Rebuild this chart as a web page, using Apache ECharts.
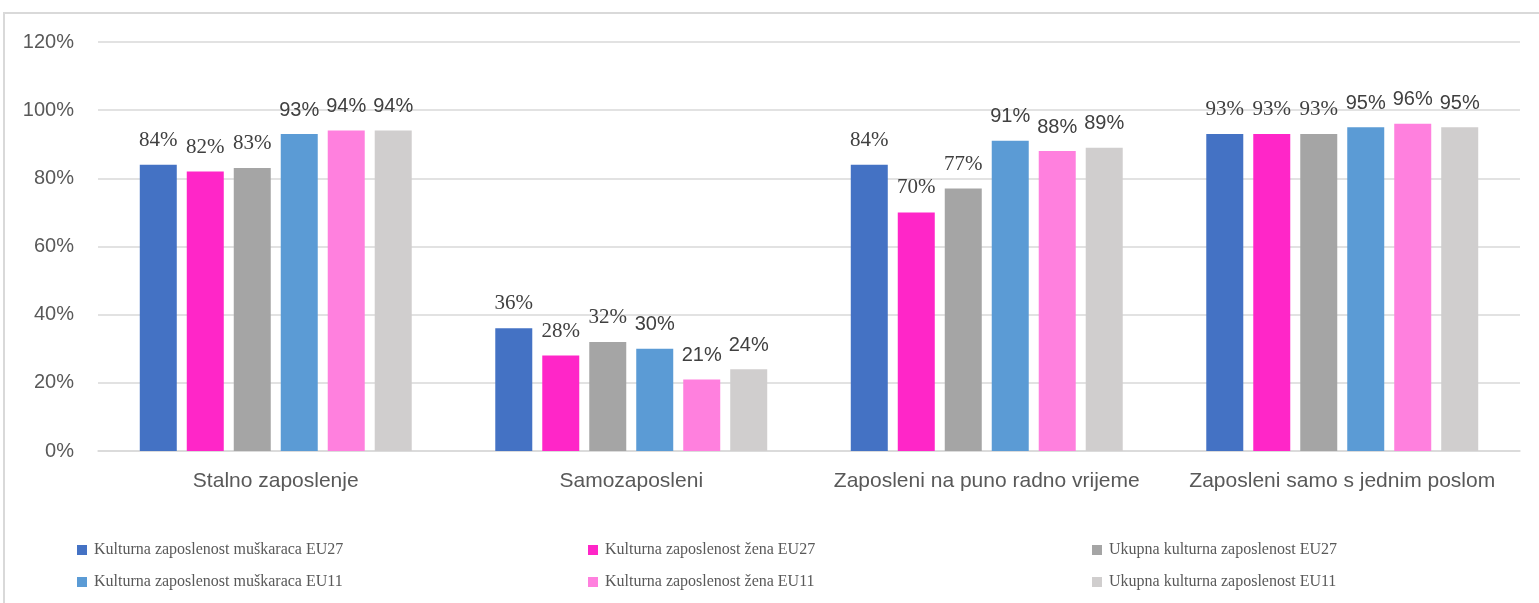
<!DOCTYPE html>
<html>
<head>
<meta charset="utf-8">
<script src="https://cdn.jsdelivr.net/npm/echarts@6/dist/echarts.min.js"></script>
<style>
  html, body { margin: 0; padding: 0; background: #fff; }
  #chart { width: 1539px; height: 603px; }
</style>
</head>
<body>
<div id="chart"></div>
<script>
// kategorije i vrijednosti (%)
const categories = ['Stalno zaposlenje', 'Samozaposleni', 'Zaposleni na puno radno vrijeme', 'Zaposleni samo s jednim poslom']
const seriesNames = [
  'Kulturna zaposlenost muškaraca EU27',
  'Kulturna zaposlenost žena EU27',
  'Ukupna kulturna zaposlenost EU27',
  'Kulturna zaposlenost muškaraca EU11',
  'Kulturna zaposlenost žena EU11',
  'Ukupna kulturna zaposlenost EU11'
]
const menEU27 = [84, 36, 84, 93]
const womenEU27 = [82, 28, 70, 93]
const totalEU27 = [83, 32, 77, 93]
const menEU11 = [93, 30, 91, 95]
const womenEU11 = [94, 21, 88, 96]
const totalEU11 = [94, 24, 89, 95]
const yMax = 120
const yStep = 20

const seriesData = [menEU27, womenEU27, totalEU27, menEU11, womenEU11, totalEU11]
const colors = ['#4472C4', '#FF26C8', '#A5A5A5', '#5B9BD5', '#FF80DE', '#D0CECE']
const serif = '"Liberation Serif", "Times New Roman", serif'
const sans = '"Liberation Sans", Arial, sans-serif'

const chart = echarts.init(document.getElementById('chart'))

// legenda u 3 stupca, 2 reda
const legends = seriesNames.map((name, i) => {
  return {
    data: [name],
    left: [72, 583, 1087][i % 3],
    top: i < 3 ? 537 : 569,
    icon: 'rect',
    itemWidth: 10,
    itemHeight: 10,
    selectedMode: false,
    textStyle: {
      fontFamily: serif,
      fontSize: 16,
      color: '#595959',
      padding: [0, 0, 0, 2]
    }
  }
})

const option = {
  animation: false,
  color: colors,
  graphic: [
    {
      type: 'rect',
      shape: { x: 4, y: 13, width: 1600, height: 700 },
      style: { fill: 'none', stroke: '#D9D9D9', lineWidth: 2 },
      silent: true,
      z: -10
    }
  ],
  legend: legends,
  grid: {
    left: 98,
    right: 19,
    top: 42,
    bottom: 152
  },
  xAxis: {
    type: 'category',
    data: categories,
    axisTick: { show: false },
    axisLine: {
      lineStyle: { color: '#D9D9D9', width: 1.5 }
    },
    axisLabel: {
      interval: 0,
      color: '#595959',
      fontFamily: sans,
      fontSize: 21,
      margin: 20
    }
  },
  yAxis: {
    type: 'value',
    min: 0,
    max: yMax,
    interval: yStep,
    axisLine: { show: false },
    axisTick: { show: false },
    axisLabel: {
      color: '#595959',
      fontFamily: sans,
      fontSize: 20,
      margin: 24,
      formatter: '{value}%'
    },
    splitLine: {
      lineStyle: { color: '#D9D9D9', width: 1.5 }
    }
  },
  series: seriesData.map((data, i) => {
    return {
      name: seriesNames[i],
      type: 'bar',
      data: data,
      barWidth: 37,
      barGap: '27%',
      itemStyle: { color: colors[i] },
      label: {
        show: true,
        position: 'top',
        distance: 14,
        formatter: '{c}%',
        color: '#404040',
        fontFamily: i < 3 ? serif : sans,
        fontSize: i < 3 ? 21 : 20
      }
    }
  })
}

chart.setOption(option)
</script>
</body>
</html>
